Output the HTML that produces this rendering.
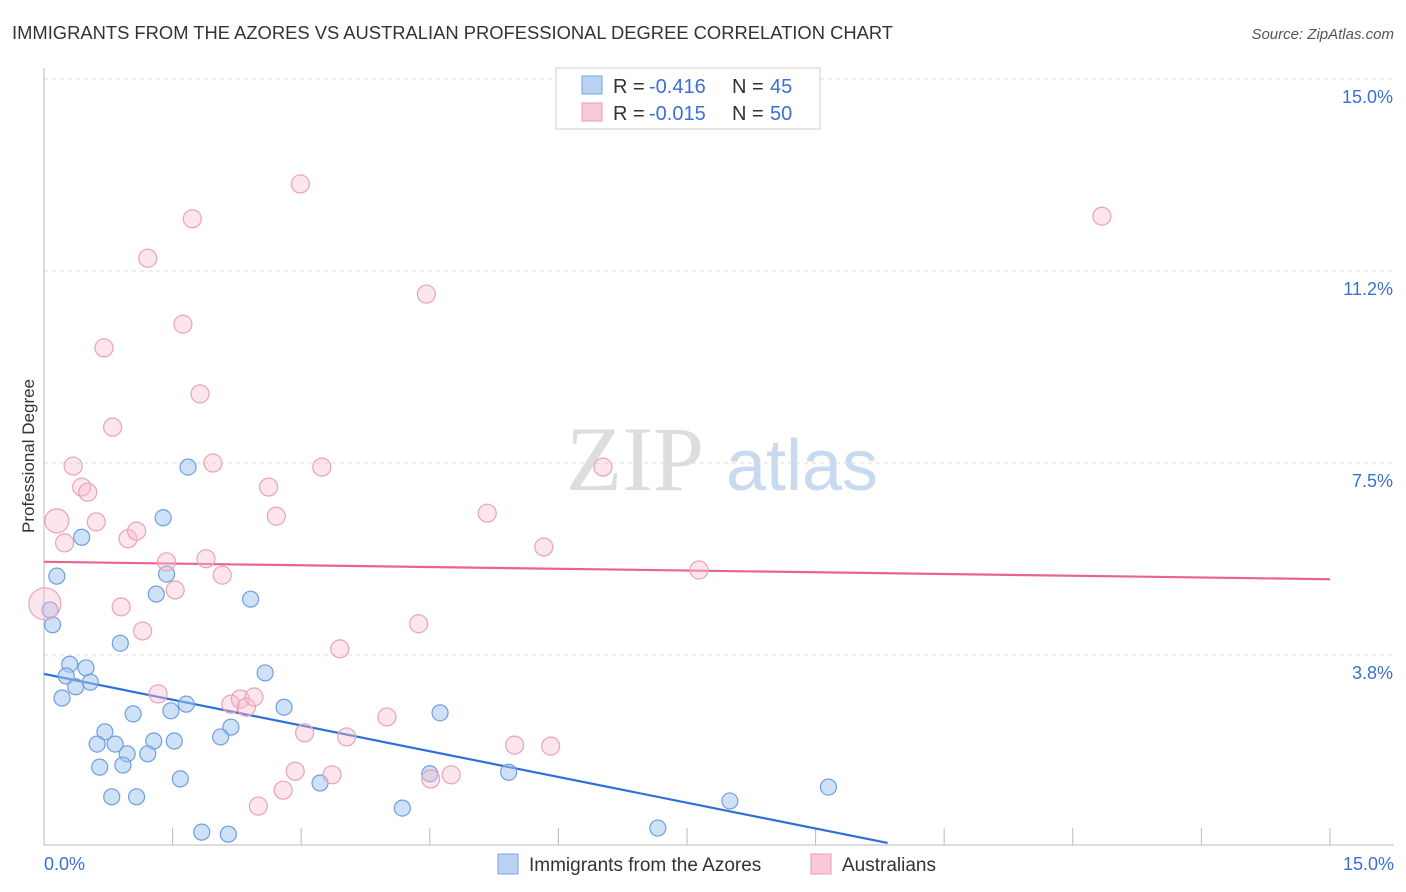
<!DOCTYPE html>
<html><head><meta charset="utf-8">
<style>
body{margin:0;background:#fff;font-family:"Liberation Sans",sans-serif;}
#wrap{position:relative;width:1406px;height:892px;overflow:hidden;}
</style></head>
<body>
<div id="wrap">
<svg id="chart" width="1406" height="892">
  <text x="12" y="39" font-size="18" fill="#333" textLength="881" lengthAdjust="spacingAndGlyphs">IMMIGRANTS FROM THE AZORES VS AUSTRALIAN PROFESSIONAL DEGREE CORRELATION CHART</text>
  <text x="1394" y="39" font-size="15" fill="#555" font-style="italic" text-anchor="end">Source: ZipAtlas.com</text>
  <text x="34" y="456" font-size="17" fill="#333" text-anchor="middle" transform="rotate(-90 34 456)">Professional Degree</text>
  <g>
    <text x="635" y="490" font-size="92" font-family="Liberation Serif,serif" fill="#ddd" text-anchor="middle">ZIP</text>
    <text x="802" y="490" font-size="72" fill="#c9d9ee" text-anchor="middle">atlas</text>
  </g>
  <g id="grid"></g>
  <g id="axes"></g>
  <g id="trends"></g>
  <g id="points"></g>
  <g>
    <rect x="556" y="68" width="264" height="61" fill="#fff" stroke="#ccc"/>
    <rect x="582" y="76" width="20" height="18" fill="#b9d3f5" stroke="#7aa6e0"/>
    <rect x="582" y="103" width="20" height="18" fill="#f9c9d7" stroke="#eb9ab3"/>
    <text x="613" y="93" font-size="20" fill="#333">R =</text>
    <text x="649" y="93" font-size="20" fill="#3a70d6">-0.416</text>
    <text x="732" y="93" font-size="20" fill="#333">N =</text>
    <text x="770" y="93" font-size="20" fill="#3a70d6">45</text>
    <text x="613" y="120" font-size="20" fill="#333">R =</text>
    <text x="649" y="120" font-size="20" fill="#3a70d6">-0.015</text>
    <text x="732" y="120" font-size="20" fill="#333">N =</text>
    <text x="770" y="120" font-size="20" fill="#3a70d6">50</text>
  </g>
  <g>
    <rect x="498" y="854" width="20" height="20" fill="#b9d3f5" stroke="#7aa6e0"/>
    <text x="529" y="871" font-size="19" fill="#333">Immigrants from the Azores</text>
    <rect x="811" y="854" width="20" height="20" fill="#f9c9d7" stroke="#eb9ab3"/>
    <text x="842" y="871" font-size="19" fill="#333">Australians</text>
  </g>
</svg>
</div>
<script>
const blueX=[.07,.10,.15,.44,.30,.26,.37,.21,.49,.54,.89,1.39,1.43,1.31,1.68,2.41,2.58,2.80,2.18,2.06,1.66,1.48,1.52,1.28,1.04,.71,.62,.83,1.21,.97,.65,.92,.79,1.08,1.59,1.84,2.15,3.22,4.18,4.50,4.62,5.42,7.16,8.00,9.15];
const blueY=[4.63,4.34,5.29,6.05,3.57,3.34,3.13,2.91,3.50,3.22,3.98,6.43,5.33,4.94,7.42,4.84,3.40,2.73,2.34,2.15,2.79,2.66,2.07,2.07,2.60,2.25,2.01,2.01,1.82,1.82,1.56,1.60,.98,.98,1.33,.29,.25,1.25,.76,1.43,2.62,1.46,.37,.90,1.17];
const pinkX=[.01,.15,.24,.34,.44,.51,.61,.70,.80,.90,.98,1.08,1.15,1.21,1.43,1.53,1.62,1.73,1.82,1.89,1.97,2.08,2.18,2.29,2.36,2.45,2.50,2.62,2.71,2.79,2.93,2.99,3.04,3.24,3.36,3.45,3.53,4.00,4.37,4.46,4.51,4.75,5.17,5.49,5.83,5.91,6.52,7.64,12.34,1.33];
const pinkY=[4.75,6.37,5.94,7.44,7.03,6.93,6.35,9.75,8.20,4.69,6.02,6.17,4.22,11.50,5.57,5.02,10.21,12.27,8.85,5.63,7.50,5.31,2.79,2.89,2.73,2.93,.80,7.03,6.46,1.11,1.48,12.95,2.23,7.42,1.41,3.87,2.15,2.54,4.36,10.80,1.33,1.41,6.52,1.99,5.86,1.97,7.42,5.41,12.32,2.99];
const pinkR=[16,12,9,9,9,9,9,9,9,9,9,9,9,9,9,9,9,9,9,9,9,9,9,9,9,9,9,9,9,9,9,9,9,9,9,9,9,9,9,9,9,9,9,9,9,9,9,9,9,9];
const yTicks=[3.75,7.5,11.25,15];
const yTickLabels=["3.8%","7.5%","11.2%","15.0%"];
const xTicks=[0,1.5,3,4.5,6,7.5,9,10.5,12,13.5,15];
const blueTrend=[[0,3.38],[9.84,0.08]];
const pinkTrend=[[0,5.57],[15,5.23]];

const X=v=>44+v*85.73, Y=v=>847-v*51.2;
const NS="http://www.w3.org/2000/svg";
function mk(tag,parent,attrs){const e=document.createElementNS(NS,tag);for(const k in attrs)e.setAttribute(k,attrs[k]);document.getElementById(parent).appendChild(e);return e;}

yTicks.forEach((t,i)=>{
  const l=mk('line','grid',{x1:44,x2:1394,y1:Y(t),y2:Y(t),stroke:'#ddd','stroke-dasharray':'4,4'});
  
  
  const tx=mk('text','grid',{x:1393,y:Y(t)+24,'font-size':18,fill:'#3a70d6','text-anchor':'end'});
  tx.textContent=yTickLabels[i];
  
  
});
const ax=mk('line','axes',{x1:44,x2:1394,y1:845,y2:845,stroke:'#bbb'});


const ay=mk('line','axes',{x1:44,x2:44,y1:68,y2:845,stroke:'#bbb'});


xTicks.forEach(t=>{
  const l=mk('line','axes',{x1:X(t),x2:X(t),y1:828,y2:845,stroke:'#bbb'});
  
  
});
const xl0=mk('text','axes',{x:44,y:870,'font-size':18,fill:'#3a70d6'});xl0.textContent='0.0%';


const xl1=mk('text','axes',{x:1394,y:870,'font-size':18,fill:'#3a70d6','text-anchor':'end'});xl1.textContent='15.0%';



blueX.forEach((v,i)=>{
  const c=mk('circle','points',{cx:X(v),cy:Y(blueY[i]),r:8,fill:'rgba(160,195,240,0.5)',stroke:'#6e9fe0','stroke-width':1.2});
  
  
});
pinkX.forEach((v,i)=>{
  const c=mk('circle','points',{cx:X(v),cy:Y(pinkY[i]),r:pinkR[i],fill:'rgba(248,190,208,0.4)',stroke:'#eba2b9','stroke-width':1.2});
  
  
});
const bt=mk('line','trends',{x1:X(blueTrend[0][0]),y1:Y(blueTrend[0][1]),x2:X(blueTrend[1][0]),y2:Y(blueTrend[1][1]),stroke:'#2f6fd8','stroke-width':2.2});


const pt=mk('line','trends',{x1:X(pinkTrend[0][0]),y1:Y(pinkTrend[0][1]),x2:X(pinkTrend[1][0]),y2:Y(pinkTrend[1][1]),stroke:'#e8648e','stroke-width':2.2});


</script>
</body></html>
